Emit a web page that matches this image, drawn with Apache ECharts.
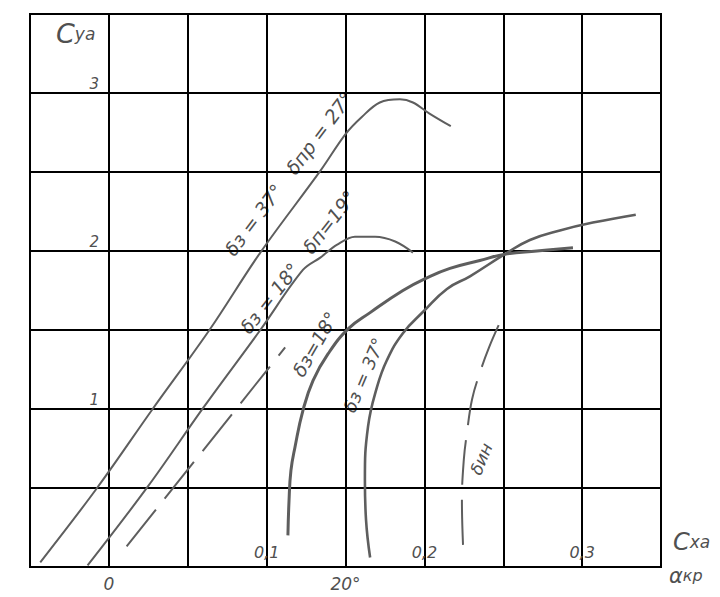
<!DOCTYPE html>
<html><head><meta charset="utf-8">
<script src="https://cdn.jsdelivr.net/npm/echarts@6/dist/echarts.min.js"></script>
<style>html,body{margin:0;padding:0;background:#fff}#c{width:720px;height:597px}</style>
</head><body><div id="c"></div>
<script>
// ---- data ----
// Cya vs angle of attack (deg): delta_z = 37°, delta_pr = 27°
const line1Alpha = [-5.8, -1.0, 3.7, 8.5, 12.8, 17.9, 20.0, 21.4, 22.9, 24.6, 25.7, 27.1, 28.9];
const line1Cya   = [0.03, 0.50, 1.00, 1.50, 1.99, 2.51, 2.74, 2.85, 2.94, 2.96, 2.94, 2.87, 2.79];
// Cya vs angle of attack: delta_z = 18°, delta_p = 19°
const line2Alpha = [-1.8, 3.3, 8.0, 12.8, 16.4, 17.9, 19.3, 20.8, 22.5, 24.2, 25.7];
const line2Cya   = [0.01, 0.51, 1.01, 1.50, 1.88, 1.96, 2.04, 2.09, 2.09, 2.06, 1.99];
// dashed Cya vs angle of attack
const line3Alpha = [1.5, 14.9];
const line3Cya   = [0.13, 1.39];
// polar delta_z = 18°
const polar18Cxa = [0.1135, 0.1142, 0.1154, 0.118, 0.123, 0.1294, 0.139, 0.152, 0.1656, 0.1864, 0.2016, 0.2162, 0.2352, 0.251, 0.2714, 0.2942];
const polar18Cya = [0.20, 0.42, 0.61, 0.76, 0.99, 1.18, 1.35, 1.51, 1.61, 1.75, 1.83, 1.89, 1.94, 1.98, 2.00, 2.02];
// polar delta_z = 37°
const polar37Cxa = [0.1656, 0.163, 0.1623, 0.1643, 0.170, 0.1763, 0.1864, 0.1997, 0.2143, 0.2289, 0.251, 0.2669, 0.2859, 0.3068, 0.334];
const polar37Cya = [0.06, 0.30, 0.55, 0.89, 1.14, 1.31, 1.48, 1.62, 1.76, 1.84, 1.98, 2.07, 2.13, 2.18, 2.23];
// dashed delta_in curve
const deltaInCxa = [0.2245, 0.2238, 0.225, 0.227, 0.2302, 0.2352, 0.241, 0.248];
const deltaInCya = [0.14, 0.42, 0.68, 0.85, 1.06, 1.23, 1.39, 1.55];
// tick labels
const cxaTickLabels = {'0.1': '0,1', '0.2': '0,2', '0.3': '0,3'};
const alphaTickLabels = {'0': '0', '20': '20°'};
const cyaTickLabels = {'1': '1', '2': '2', '3': '3'};
// curve annotations
const curveLabelTexts = ['δз = 37°   δпр = 27°', 'δз = 18°   δп=19°', 'δз=18°', 'δз = 37°', 'δин'];
const curveLabelAnchors = [[0.1140, 2.49], [0.1198, 1.93], [0.1306, 1.41], [0.1617, 1.215], [0.236, 0.684]];

// ---- chart ----
const pair = (a, b) => a.map((v, i) => [v, b[i]]);
const curveColor = '#5e5e5e';
const textColor = '#505050';
const font = '"DejaVu Sans", sans-serif';
const chart = echarts.init(document.getElementById('c'), null, {renderer: 'svg'});
const keyOf = v => String(Math.round(v * 1000) / 1000);

chart.setOption({
  animation: false,
  backgroundColor: '#fff',
  grid: {left: 30, right: 59, top: 14, bottom: 30, show: true, borderColor: '#000', borderWidth: 2},
  xAxis: [{
    type: 'value', min: -0.05, max: 0.35, interval: 0.05, position: 'bottom',
    axisLine: {show: true, lineStyle: {color: '#000', width: 2}},
    axisTick: {show: false},
    splitLine: {show: true, lineStyle: {color: '#000', width: 2}},
    axisLabel: {inside: true, margin: 7, color: textColor, fontFamily: font, fontStyle: 'italic', fontSize: 16,
      formatter: v => cxaTickLabels[keyOf(v)] || ''}
  }, {
    type: 'value', min: -20 / 3, max: 140 / 3, interval: 20 / 3, position: 'bottom',
    axisLine: {show: false}, axisTick: {show: false}, splitLine: {show: false},
    axisLabel: {margin: 8, color: textColor, fontFamily: font, fontStyle: 'italic', fontSize: 17,
      formatter: v => alphaTickLabels[String(Math.round(v * 100) / 100)] || ''}
  }],
  yAxis: {
    type: 'value', min: 0, max: 3.5, interval: 0.5,
    axisLine: {show: true, lineStyle: {color: '#000', width: 2}},
    axisTick: {show: false},
    splitLine: {show: true, lineStyle: {color: '#000', width: 2}},
    axisLabel: {inside: true, margin: 69, align: 'right', verticalAlign: 'bottom', color: textColor,
      fontFamily: font, fontStyle: 'italic', fontSize: 15, padding: [0, 0, 2, 0],
      formatter: v => cyaTickLabels[keyOf(v)] || ''}
  },
  series: [
    {type: 'line', xAxisIndex: 1, data: pair(line1Alpha, line1Cya), smooth: 0.35, showSymbol: false,
      lineStyle: {color: curveColor, width: 2}},
    {type: 'line', xAxisIndex: 1, data: pair(line2Alpha, line2Cya), smooth: 0.35, showSymbol: false,
      lineStyle: {color: curveColor, width: 2}},
    {type: 'line', xAxisIndex: 1, data: pair(line3Alpha, line3Cya), showSymbol: false,
      lineStyle: {color: curveColor, width: 2, type: [47, 14]}},
    {type: 'line', xAxisIndex: 0, data: pair(polar18Cxa, polar18Cya), smooth: 0.45, showSymbol: false,
      lineStyle: {color: curveColor, width: 3}},
    {type: 'line', xAxisIndex: 0, data: pair(polar37Cxa, polar37Cya), smooth: 0.45, showSymbol: false,
      lineStyle: {color: curveColor, width: 2.6}},
    {type: 'line', xAxisIndex: 0, data: pair(deltaInCxa, deltaInCya), smooth: 0.4, showSymbol: false,
      lineStyle: {color: curveColor, width: 2, type: [45, 15]}}
  ],
  graphic: []
});

const rotations = [53, 52, 60, 67, 68];
const sizes = [19, 19, 19, 18, 17];
const graphics = curveLabelTexts.map((t, i) => {
  const p = chart.convertToPixel({xAxisIndex: 0, yAxisIndex: 0}, curveLabelAnchors[i]);
  return {type: 'text', x: p[0], y: p[1], rotation: rotations[i] * Math.PI / 180,
    style: {text: t, fill: textColor, font: 'italic ' + sizes[i] + 'px ' + font, align: 'center', verticalAlign: 'middle'}};
});
graphics.push({type: 'text', left: 56, top: 20, style: {
  rich: {c: {fontSize: 27, fontFamily: font, fontStyle: 'italic', fill: textColor}, s: {fontSize: 17, fontFamily: font, fontStyle: 'italic', fill: textColor}},
  text: '{c|C}{s|ya}'}});
graphics.push({type: 'text', left: 673, top: 530, style: {
  rich: {c: {fontSize: 24, fontFamily: font, fontStyle: 'italic', fill: textColor}, s: {fontSize: 17, fontFamily: font, fontStyle: 'italic', fill: textColor}},
  text: '{c|C}{s|xa}'}});
graphics.push({type: 'text', left: 669, top: 565, style: {
  rich: {c: {fontSize: 21, fontFamily: font, fontStyle: 'italic', fill: textColor}, s: {fontSize: 16, fontFamily: font, fontStyle: 'italic', fill: textColor}},
  text: '{c|α}{s|кр}'}});
chart.setOption({graphic: graphics});
</script></body></html>
